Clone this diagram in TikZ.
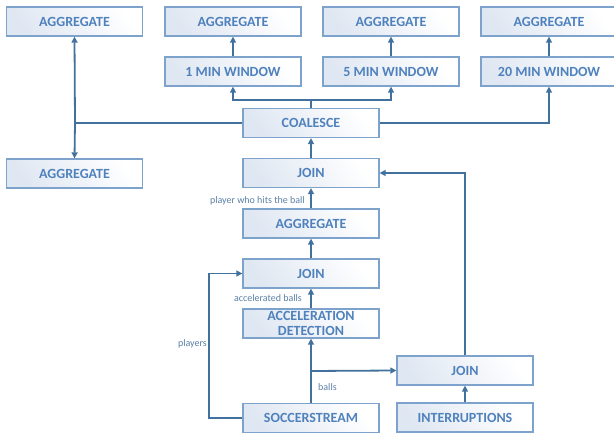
\documentclass[tikz,border=0pt]{standalone}
\usepackage{fontspec}
\setmainfont{Carlito}
\usetikzlibrary{arrows.meta}
\definecolor{boxline}{HTML}{7DA2CC}
\definecolor{boxtext}{HTML}{4F81BD}
\definecolor{connc}{HTML}{41719C}
\definecolor{lbl}{HTML}{5B7FA6}
\definecolor{tint}{HTML}{DFE7F2}
\begin{document}
\begin{tikzpicture}[x=1pt,y=-1pt,
 box/.style={draw=boxline, line width=1.3pt, left color=tint, right color=white, shading angle=125, minimum width=136pt, minimum height=29pt, inner sep=0pt, font=\bfseries\fontsize{14}{15}\selectfont, text=boxtext, align=center},
 wire/.style={draw=connc, line width=1.8pt},
 conn/.style={wire, -{Triangle[length=6pt,width=6pt]}},
 lab/.style={font=\fontsize{10}{11}\selectfont, text=lbl, inner sep=0pt}]
\useasboundingbox (0,0) rectangle (614,435);
\begin{scope}
\clip (0,0) rectangle (614,435);
\node[box] (aggTL) at (74.5,21.5) {AGGREGATE};
\node[box] (aggT2) at (233,21.5) {AGGREGATE};
\node[box] (min1) at (233,71.5) {1 MIN WINDOW};
\node[box] (aggT3) at (391,21.5) {AGGREGATE};
\node[box] (min5) at (391,71.5) {5 MIN WINDOW};
\node[box] (aggT4) at (549,21.5) {AGGREGATE};
\node[box] (min20) at (549,71.5) {20 MIN WINDOW};
\node[box] (coal) at (311,123) {COALESCE};
\node[box] (aggBL) at (74.5,173.5) {AGGREGATE};
\node[box] (join1) at (311,173) {JOIN};
\node[box] (aggM) at (311,223.5) {AGGREGATE};
\node[box] (join2) at (311,273.5) {JOIN};
\node[box, font=\bfseries\fontsize{14}{14.5}\selectfont] (acc) at (311,323.5) {ACCELERATION\\DETECTION};
\node[box] (soc) at (311,418) {SOCCERSTREAM};
\node[box] (joinR) at (465,370.5) {JOIN};
\node[box] (intr) at (465,417.5) {INTERRUPTIONS};
\end{scope}

\coordinate (br) at (311,100);
\coordinate (lj) at (75,123);
\coordinate (bb) at (311,371);
\coordinate (pl) at (209,418);

\draw[wire] (coal.north) -- (br);
\draw[conn] (br) -| (min1.south);
\draw[conn] (br) -| (min5.south);
\draw[wire] (coal.west) -- (lj);
\draw[conn] (lj) -- (aggTL.south);
\draw[conn] (lj) -- (aggBL.north);
\draw[conn] (coal.east) -| (min20.south);
\draw[conn] (min1) -- (aggT2);
\draw[conn] (min5) -- (aggT3);
\draw[conn] (min20) -- (aggT4);
\draw[conn] (join1) -- (coal);
\draw[conn] (aggM) -- (join1);
\draw[conn] (join2) -- (aggM);
\draw[conn] (acc) -- (join2);
\draw[conn] (soc) -- (acc);
\draw[conn] (bb) -- (joinR.west);
\draw[conn] (soc.west) -- (pl) |- (join2.west);
\draw[conn] (intr) -- (joinR);
\draw[conn] (joinR.north) |- (join1.east);

\node[lab, anchor=east] (l1) at (305,201) {player who hits the ball};
\node[lab, anchor=east] (l2) at (302,298) {accelerated balls};
\node[lab, anchor=east] (l3) at (207,344) {players};
\node[lab, anchor=west] (l4) at (318,387) {balls};
\end{tikzpicture}
\end{document}
